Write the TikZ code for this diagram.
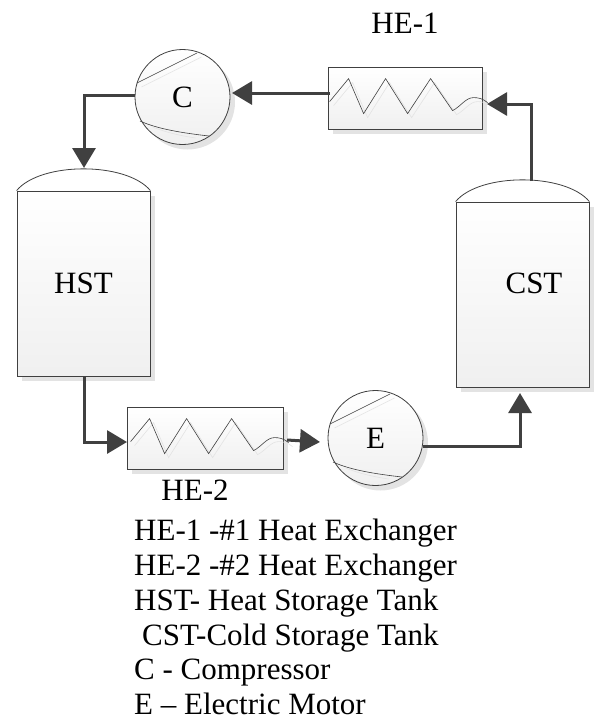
\documentclass[tikz,border=0pt]{standalone}
\usepackage{fontspec}
\setmainfont{Liberation Serif}
\usetikzlibrary{arrows.meta}
\usetikzlibrary{positioning}
\usetikzlibrary{shadows}

\definecolor{pipe}{HTML}{404040}

\tikzset{
  coil/.pic={
    \draw[gray!22,semithick,shift={(4,4)}] (2,35) -- (21,12) -- (36,47) -- (58,12) -- (80,47) -- (103,12) -- (125,44) .. controls (133,40) and (138,31) .. (146,31) .. controls (151,31) and (155,32) .. (160,36);
    \draw[pipe,semithick] (2,35) -- (21,12) -- (36,47) -- (58,12) -- (80,47) -- (103,12) -- (125,44) .. controls (133,40) and (138,31) .. (146,31) .. controls (151,31) and (155,32) .. (160,36);
  },
  rotor/.pic={
    \draw[gray!22,semithick] (-41,-10) -- (19,-40);
    \draw[gray!22,semithick] (-30,30) .. controls (-15,36) and (0,39) .. (13,41);
    \draw[pipe,semithick] (-45.5,-14) -- (14.5,-44);
    \draw[pipe,semithick] (-42.5,24) .. controls (-25,32) and (0,36) .. (26.5,39);
  }
}

\begin{document}
\begin{tikzpicture}[x=1pt,y=-1pt,-,node distance=43pt]
	\tikzstyle{unit}=[draw=pipe,line width=0.8pt,top color=white,bottom color=gray!12,drop shadow={shadow xshift=5pt,shadow yshift=-5pt,fill=gray!22,opacity=1},inner sep=0pt]
	\tikzstyle{exch}=[unit,rectangle,minimum width=154pt,minimum height=62pt]
	\tikzstyle{mach}=[unit,circle,minimum size=95pt,font=\fontsize{31}{31}\selectfont]
	\tikzstyle{tank}=[unit,rectangle,minimum width=133pt,font=\fontsize{31}{31}\selectfont]
	\tikzstyle{lbl}=[font=\fontsize{31}{31}\selectfont,inner sep=0pt]
	\tikzstyle{flow}=[draw=pipe,line width=3pt,-{Triangle[length=20pt,width=23pt]}]
	\tikzstyle{elbow}=[to path={-| (\tikztotarget)}]
	\tikzstyle{elbowb}=[to path={|- (\tikztotarget)}]

	\useasboundingbox (0,0) rectangle (595,723);

	\node[exch] (heone) at (405,98) {};
	\node[exch,minimum width=156pt] (hetwo) at (205,438) {};
	\node[mach] (comp) at (182.5,97) {C};
	\node[mach] (motor) at (375.5,438) {E};
	\node[tank,minimum height=185pt] (hst) at (83.5,283.5) {HST};
	\node[tank,minimum height=185pt] (cst) at (522.5,294.5) {};
	\node[lbl] (cstname) at (534,283) {CST};

	\node[lbl,above of=heone,node distance=75pt] (heonename) {HE-1};
	\node[lbl,below of=hetwo,node distance=52pt,xshift=-10pt] (hetwoname) {HE-2};

	\pic at (heone.north west) {coil};
	\pic at ([xshift=2pt]hetwo.north west) {coil};
	\pic at (comp.center) {rotor};
	\pic at (motor.center) {rotor};

	\draw[draw=pipe,line width=0.8pt,fill=white] (hst.north west) .. controls +(24,-29) and +(-24,-29) .. (hst.north east);
	\draw[draw=pipe,line width=0.8pt,fill=white] (cst.north west) .. controls +(24,-29) and +(-24,-29) .. (cst.north east);

	\coordinate (heoneout) at (330,93);
	\coordinate (compin) at (232,93);
	\coordinate (compout) at (135,95);
	\coordinate (hstin) at (84,168);
	\coordinate (hstout) at (84,376);
	\coordinate (hetwoin) at (127,442);
	\coordinate (hetwoout) at (287,440);
	\coordinate (motorin) at (320,442);
	\coordinate (motorout) at (423,446);
	\coordinate (cstin) at (520,393);
	\coordinate (cstout) at (531,181);
	\coordinate (heonein) at (487,104);

	\path
		(cstout) edge[flow,elbowb] (heonein)
		(heoneout) edge[flow] (compin)
		(compout) edge[flow,elbow] (hstin)
		(hstout) edge[flow,elbowb] (hetwoin)
		(hetwoout) edge[flow] (motorin)
		(motorout) edge[flow,elbow] (cstin);

	\node[anchor=north west,align=left,inner sep=0pt,font=\fontsize{31}{34.8}\selectfont] (legend) at (134,519) {HE-1 -\#1 Heat Exchanger\\HE-2 -\#2 Heat Exchanger\\HST- Heat Storage Tank\\\hspace*{8pt}CST-Cold Storage Tank\\C - Compressor\\E -- Electric Motor};
\end{tikzpicture}
\end{document}
